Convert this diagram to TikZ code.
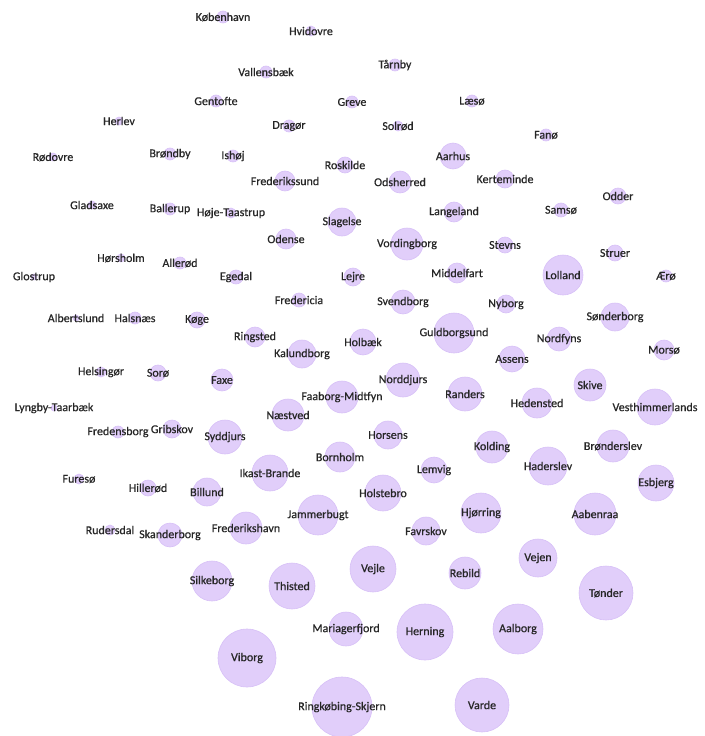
\documentclass[tikz,border=0pt]{standalone}
\usepackage{fontspec}
\setmainfont{Carlito}
\newfontfamily\lblfont{Carlito}[FakeBold=0.6]
\definecolor{lav}{RGB}{225,206,250}
\definecolor{lavedge}{RGB}{215,192,247}
\begin{document}
\begin{tikzpicture}[x=1pt, y=-1pt, font=\lblfont\fontsize{12}{14}\selectfont, line join=round, line cap=round]
	% Kiểu vẽ
	\tikzset{bub/.style={circle, fill=lav, draw=lavedge, line width=0.6pt, inner sep=0pt},
		lbl/.style={text=black!85, inner sep=0pt}}
	% Khung
	\useasboundingbox (0,0) rectangle (704,736);
	% Vẽ các hình tròn: x/y/bán kính/tên
	\foreach \x/\y/\r/\t [count=\i] in {
		223/17/6/København, 311/31/5/Hvidovre, 266/72/6/Vallensbæk, 216/101/6/Gentofte,
		119/121/4/Herlev, 289/126/6/Dragør, 352/102/6/Greve, 53/157/4/Rødovre,
		170/154/6/Brøndby, 233/156/6/Ishøj, 345/165/8/Roskilde, 285/181/10/Frederikssund,
		400/182/11/Odsherred, 92/205/4/Gladsaxe, 170/209/6/Ballerup, 231/213/5/Høje-Taastrup,
		342/222/14/Slagelse, 286/239/10/Odense, 407/244/16/Vordingborg, 453/156/13/Aarhus,
		395/65/6/Tårnby, 472/101/6/Læsø, 398/126/5/Solrød, 546/135/6/Fanø,
		505/179/9/Kerteminde, 618/196/8/Odder, 454/212/10/Langeland, 561/210/7/Samsø,
		505/245/8/Stevns, 615/253/8/Struer, 457/273/10/Middelfart, 563/275/20/Lolland,
		666/276/6/Ærø, 353/277/9/Lejre, 236/277/7/Egedal, 180/263/6/Allerød,
		121/258/4/Hørsholm, 34/277/3/Glostrup, 299/300/7/Fredericia, 403/302/12/Svendborg,
		506/304/9/Nyborg, 615/317/14/Sønderborg, 454/333/20/Guldborgsund, 559/339/12/Nordfyns,
		664/350/10/Morsø, 512/359/13/Assens, 76/318/3/Albertslund, 135/318/6/Halsnæs,
		197/320/8/Køge, 255/337/10/Ringsted, 302/354/14/Kalundborg, 363/342/13/Holbæk,
		101/372/5/Helsingør, 158/373/8/Sorø, 222/380/11/Faxe, 54/408/3/Lyngby-Taarbæk,
		342/397/16/Faaborg-Midtfyn, 403/380/17/Norddjurs, 465/394/17/Randers, 537/403/15/Hedensted,
		590/385/16/Skive, 655/407/18/Vesthimmerlands, 288/415/16/Næstved, 118/432/6/Fredensborg,
		172/429/9/Gribskov, 225/437/17/Syddjurs, 388/435/14/Horsens, 340/457/15/Bornholm,
		492/447/16/Kolding, 613/446/16/Brønderslev, 548/466/19/Haderslev, 434/470/13/Lemvig,
		656/483/18/Esbjerg, 270/473/18/Ikast-Brande, 79/479/5/Furesø, 148/488/8/Hillerød,
		207/492/14/Billund, 383/493/18/Holstebro, 318/515/20/Jammerbugt, 481/513/20/Hjørring,
		595/514/21/Aabenraa, 426/531/14/Favrskov, 110/530/5/Rudersdal, 170/535/12/Skanderborg,
		246/528/16/Frederikshavn, 212/581/20/Silkeborg, 292/586/23/Thisted, 373/569/23/Vejle,
		465/573/16/Rebild, 538/558/19/Vejen, 606/593/27/Tønder, 346/629/17/Mariagerfjord,
		425/632/28/Herning, 518/629/25/Aalborg, 247/658/29/Viborg, 342/707/30/Ringkøbing-Skjern,
		482/705/27/Varde}
	\node[bub, minimum size={2*\r*1pt}, label={[lbl]center:\t}] (k\i) at (\x,\y) {};
\end{tikzpicture}
\end{document}
